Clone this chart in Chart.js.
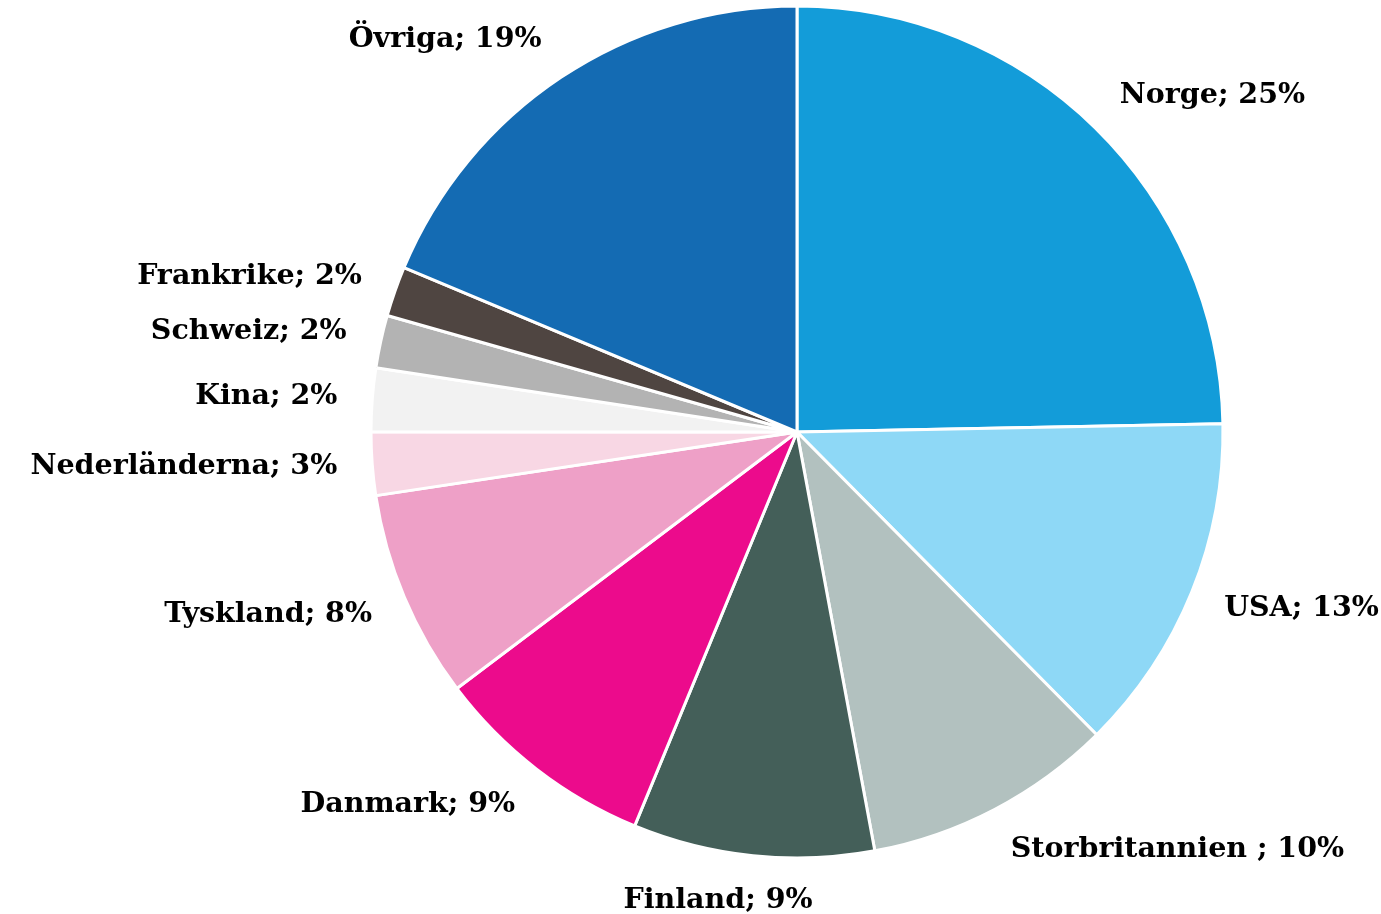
<!DOCTYPE html>
<html>
<head>
<meta charset="utf-8">
<script src="https://cdn.jsdelivr.net/npm/chart.js@4/dist/chart.umd.min.js"></script>
<style>
  html, body { margin: 0; padding: 0; background: #ffffff; }
  #wrap { width: 1381px; height: 914px; position: relative; }
</style>
</head>
<body>
<div id="wrap"><canvas id="c" width="1381" height="914"></canvas></div>
<script>
const categories = ["Norge", "USA", "Storbritannien ", "Finland", "Danmark", "Tyskland", "Nederländerna", "Kina", "Schweiz", "Frankrike", "Övriga"];
const values = [24.7, 12.9, 9.5, 9.15, 8.5, 7.9, 2.4, 2.4, 2.0, 1.9, 18.7];
const shareLabels = ["25%", "13%", "10%", "9%", "9%", "8%", "3%", "2%", "2%", "2%", "19%"];
const colors = ["#139CD9", "#8ED8F6", "#B2C1BF", "#445F59", "#EC0B8C", "#EEA0C7", "#F8D7E4", "#F2F2F2", "#B3B3B3", "#4F4541", "#146BB3"];

const labelPlugin = {
  id: 'outLabels',
  afterDatasetsDraw(chart) {
    const ctx = chart.ctx;
    const meta = chart.getDatasetMeta(0);
    ctx.save();
    ctx.font = 'bold 28.5px "DejaVu Serif", serif';
    ctx.fillStyle = '#000000';
    ctx.textBaseline = 'middle';
    ctx.textAlign = 'left';
    meta.data.forEach((arc, i) => {
      const p = arc.getProps(['x', 'y', 'startAngle', 'endAngle', 'outerRadius'], true);
      const mid = (p.startAngle + p.endAngle) / 2;
      const cs = Math.cos(mid), sn = Math.sin(mid);
      const ax = p.x + (p.outerRadius + 35) * cs;
      const ay = p.y + (p.outerRadius + 45) * sn;
      const text = categories[i] + '; ' + shareLabels[i];
      const w = ctx.measureText(text).width;
      let f = 0.5 - 1.6 * cs;
      f = Math.max(0, Math.min(1, f));
      ctx.fillText(text, ax - w * f, ay);
    });
    ctx.restore();
  }
};

new Chart(document.getElementById('c'), {
  type: 'pie',
  data: {
    labels: categories,
    datasets: [{
      data: values,
      backgroundColor: colors,
      borderColor: '#ffffff',
      borderWidth: 3
    }]
  },
  options: {
    responsive: false,
    animation: false,
    radius: 426,
    layout: { padding: { left: 213, right: 0, top: 0, bottom: 50 } },
    plugins: {
      legend: { display: false },
      tooltip: { enabled: false }
    }
  },
  plugins: [labelPlugin]
});
</script>
</body>
</html>
